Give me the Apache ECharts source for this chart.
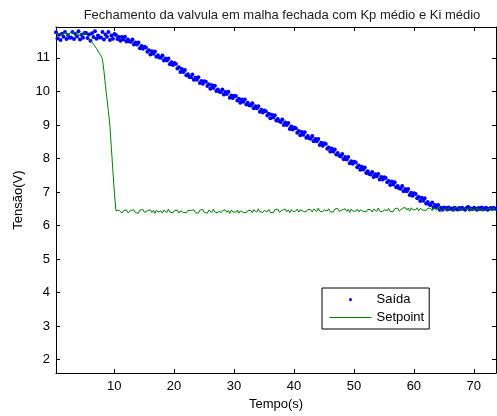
<!DOCTYPE html>
<html>
<head>
<meta charset="utf-8">
<script src="https://cdn.jsdelivr.net/npm/echarts@6/dist/echarts.min.js"></script>
<style>
  html, body { margin: 0; padding: 0; background: #fff; }
  #chart { width: 497px; height: 416px; }
</style>
</head>
<body>
<div id="chart"></div>
<script>
// amostragem (s)
const t0 = 0.3
const dt = 0.25

// Saída (V)
const saida = [
  11.76, 11.58, 11.69, 11.53, 11.72, 11.63, 11.77, 11.56, 11.68, 11.60,
  11.61, 11.77, 11.56, 11.71, 11.64, 11.79, 11.55, 11.69, 11.60, 11.74,
  11.74, 11.59, 11.70, 11.51, 11.73, 11.62, 11.79, 11.57, 11.67, 11.61,
  11.61, 11.77, 11.55, 11.70, 11.63, 11.77, 11.53, 11.67, 11.57, 11.71,
  11.68, 11.56, 11.62, 11.51, 11.62, 11.55, 11.63, 11.49, 11.55, 11.49,
  11.48, 11.55, 11.40, 11.46, 11.40, 11.46, 11.29, 11.35, 11.27, 11.33,
  11.31, 11.18, 11.23, 11.10, 11.20, 11.12, 11.19, 11.03, 11.08, 11.01,
  11.00, 11.07, 10.92, 10.98, 10.92, 10.98, 10.81, 10.87, 10.79, 10.85,
  10.82, 10.68, 10.72, 10.58, 10.67, 10.58, 10.64, 10.48, 10.51, 10.43,
  10.42, 10.50, 10.35, 10.41, 10.35, 10.42, 10.25, 10.31, 10.23, 10.30,
  10.29, 10.16, 10.21, 10.08, 10.18, 10.10, 10.17, 10.01, 10.06, 9.99,
  9.98, 10.06, 9.91, 9.98, 9.92, 9.99, 9.81, 9.88, 9.80, 9.87,
  9.86, 9.73, 9.78, 9.66, 9.76, 9.69, 9.76, 9.61, 9.66, 9.59,
  9.58, 9.65, 9.50, 9.56, 9.50, 9.56, 9.39, 9.45, 9.37, 9.43,
  9.41, 9.28, 9.33, 9.20, 9.30, 9.22, 9.29, 9.13, 9.18, 9.11,
  9.09, 9.16, 9.00, 9.07, 9.00, 9.06, 8.88, 8.95, 8.86, 8.92,
  8.90, 8.77, 8.82, 8.69, 8.79, 8.71, 8.78, 8.62, 8.67, 8.60,
  8.59, 8.67, 8.51, 8.58, 8.51, 8.58, 8.40, 8.47, 8.38, 8.45,
  8.43, 8.29, 8.33, 8.21, 8.30, 8.21, 8.27, 8.12, 8.16, 8.08,
  8.06, 8.13, 7.98, 8.04, 7.97, 8.04, 7.86, 7.92, 7.84, 7.90,
  7.88, 7.74, 7.79, 7.66, 7.75, 7.67, 7.73, 7.57, 7.62, 7.54,
  7.52, 7.60, 7.45, 7.53, 7.47, 7.54, 7.37, 7.45, 7.37, 7.44,
  7.42, 7.29, 7.33, 7.21, 7.31, 7.22, 7.29, 7.14, 7.18, 7.11,
  7.10, 7.18, 7.02, 7.09, 7.02, 7.09, 6.91, 6.98, 6.89, 6.96,
  6.94, 6.81, 6.85, 6.73, 6.83, 6.74, 6.81, 6.66, 6.70, 6.63,
  6.61, 6.69, 6.54, 6.61, 6.55, 6.61, 6.47, 6.53, 6.47, 6.54,
  6.52, 6.48, 6.54, 6.49, 6.51, 6.47, 6.53, 6.50, 6.48, 6.52,
  6.49, 6.53, 6.50, 6.47, 6.52, 6.55, 6.48, 6.51, 6.49, 6.53,
  6.50, 6.47, 6.52, 6.49, 6.54, 6.48, 6.51, 6.53, 6.47, 6.50,
  6.52, 6.49, 6.53, 6.50
]

// Setpoint (V)
const setpoint = [
  11.76, 11.68, 11.74, 11.79, 11.66, 11.73, 11.70, 11.77, 11.65, 11.74,
  11.69, 11.78, 11.71, 11.64, 11.75, 11.80, 11.67, 11.73, 11.69, 11.76,
  11.74, 11.66, 11.63, 11.52, 11.50, 11.41, 11.38, 11.28, 11.24, 11.13,
  11.06, 10.96, 10.60, 10.17, 9.78, 9.40, 8.95, 8.28, 7.60, 6.95,
  6.44, 6.39, 6.46, 6.41, 6.37, 6.44, 6.40, 6.47, 6.38, 6.43,
  6.45, 6.40, 6.47, 6.38, 6.43, 6.37, 6.46, 6.41, 6.48, 6.39,
  6.38, 6.44, 6.41, 6.47, 6.39, 6.45, 6.36, 6.46, 6.40, 6.43,
  6.44, 6.37, 6.46, 6.42, 6.39, 6.49, 6.40, 6.45, 6.38, 6.44,
  6.40, 6.46, 6.37, 6.44, 6.47, 6.39, 6.43, 6.38, 6.45, 6.41,
  6.45, 6.40, 6.47, 6.38, 6.43, 6.37, 6.46, 6.41, 6.48, 6.39,
  6.44, 6.37, 6.46, 6.42, 6.39, 6.49, 6.40, 6.45, 6.38, 6.44,
  6.38, 6.44, 6.41, 6.47, 6.39, 6.45, 6.36, 6.46, 6.40, 6.43,
  6.40, 6.46, 6.37, 6.44, 6.47, 6.39, 6.43, 6.38, 6.45, 6.41,
  6.45, 6.38, 6.47, 6.43, 6.40, 6.50, 6.41, 6.46, 6.39, 6.45,
  6.46, 6.41, 6.48, 6.39, 6.44, 6.38, 6.47, 6.42, 6.49, 6.40,
  6.40, 6.46, 6.43, 6.49, 6.41, 6.47, 6.38, 6.48, 6.42, 6.45,
  6.43, 6.49, 6.40, 6.47, 6.50, 6.42, 6.46, 6.41, 6.48, 6.44,
  6.47, 6.40, 6.49, 6.45, 6.42, 6.52, 6.43, 6.48, 6.41, 6.47,
  6.48, 6.43, 6.50, 6.41, 6.46, 6.40, 6.49, 6.44, 6.51, 6.42,
  6.41, 6.47, 6.44, 6.50, 6.42, 6.48, 6.39, 6.49, 6.43, 6.46,
  6.43, 6.49, 6.40, 6.47, 6.50, 6.42, 6.46, 6.41, 6.48, 6.44,
  6.47, 6.40, 6.49, 6.45, 6.42, 6.52, 6.43, 6.48, 6.41, 6.47,
  6.49, 6.44, 6.51, 6.42, 6.47, 6.41, 6.50, 6.45, 6.52, 6.43,
  6.45, 6.51, 6.48, 6.54, 6.46, 6.52, 6.43, 6.53, 6.47, 6.50,
  6.47, 6.53, 6.44, 6.51, 6.54, 6.46, 6.50, 6.45, 6.52, 6.48,
  6.51, 6.44, 6.53, 6.49, 6.46, 6.56, 6.47, 6.52, 6.45, 6.51,
  6.52, 6.47, 6.54, 6.45, 6.50, 6.44, 6.53, 6.48, 6.55, 6.46,
  6.45, 6.51, 6.48, 6.54, 6.46, 6.52, 6.43, 6.53, 6.47, 6.50,
  6.47, 6.53, 6.44, 6.51, 6.54, 6.46, 6.50, 6.45, 6.52, 6.48,
  6.51, 6.44, 6.53, 6.49
]

const xTicks = [10, 20, 30, 40, 50, 60, 70]
const yTicks = [2, 3, 4, 5, 6, 7, 8, 9, 10, 11]

const font = '"Liberation Sans", Arial, sans-serif'

const pairs = (vals) => vals.map((v, i) => [+(t0 + i * dt).toFixed(2), v])

const baseX = {
  type: 'value',
  min: 0.3,
  max: 73.7,
  axisLine: { onZero: false, lineStyle: { color: '#000', width: 1 } },
  axisTick: { inside: true, length: 4, customValues: xTicks, lineStyle: { color: '#000' } },
  splitLine: { show: false },
}
const baseY = {
  type: 'value',
  min: 1.6,
  max: 11.92,
  axisLine: { onZero: false, lineStyle: { color: '#000', width: 1 } },
  axisTick: { inside: true, length: 4, customValues: yTicks, lineStyle: { color: '#000' } },
  splitLine: { show: false },
}

const chart = echarts.init(document.getElementById('chart'), null, { renderer: 'canvas' })

chart.setOption({
  animation: false,
  textStyle: { fontFamily: font },
  title: {
    text: 'Fechamento da valvula em malha fechada com Kp médio e Ki médio',
    left: 277,
    top: 4,
    textAlign: 'center',
    textStyle: { fontSize: 13, fontWeight: 'normal', color: '#222', fontFamily: font },
  },
  grid: { left: 56, right: 1, top: 27, bottom: 39, containLabel: false },
  legend: {
    orient: 'vertical',
    left: 322,
    top: 288,
    itemWidth: 42,
    itemHeight: 3,
    itemGap: 5,
    padding: [5, 5, 5, 7],
    borderColor: '#000',
    borderWidth: 1,
    backgroundColor: '#fff',
    lineStyle: { width: 1 },
    textStyle: { fontSize: 13, color: '#000', fontFamily: font },
    data: [
      { name: 'Saída' },
      { name: 'Setpoint', itemStyle: { opacity: 0 } },
    ],
  },
  xAxis: [
    {
      ...baseX,
      position: 'bottom',
      name: 'Tempo(s)',
      nameLocation: 'middle',
      nameGap: 23,
      nameTextStyle: { fontSize: 13, color: '#000', fontFamily: font },
      axisLabel: { customValues: xTicks, fontSize: 13, color: '#000', margin: 7 },
    },
    { ...baseX, position: 'top', axisLabel: { show: false } },
  ],
  yAxis: [
    {
      ...baseY,
      position: 'left',
      name: 'Tensão(V)',
      nameLocation: 'middle',
      nameGap: 25,
      nameTextStyle: { fontSize: 13, color: '#000', fontFamily: font },
      axisLabel: { customValues: yTicks, fontSize: 13, color: '#000', margin: 6 },
    },
    { ...baseY, position: 'right', axisLabel: { show: false } },
  ],
  series: [
    {
      name: 'Saída',
      type: 'scatter',
      xAxisIndex: 0,
      yAxisIndex: 0,
      symbol: 'circle',
      symbolSize: 4,
      itemStyle: { color: '#0000ff', opacity: 1 },
      data: pairs(saida),
      z: 2,
    },
    {
      name: 'Setpoint',
      type: 'line',
      xAxisIndex: 0,
      yAxisIndex: 0,
      symbol: 'none',
      lineStyle: { color: '#008000', width: 1 },
      itemStyle: { color: '#008000' },
      data: pairs(setpoint),
      z: 3,
    },
  ],
})
</script>
</body>
</html>
